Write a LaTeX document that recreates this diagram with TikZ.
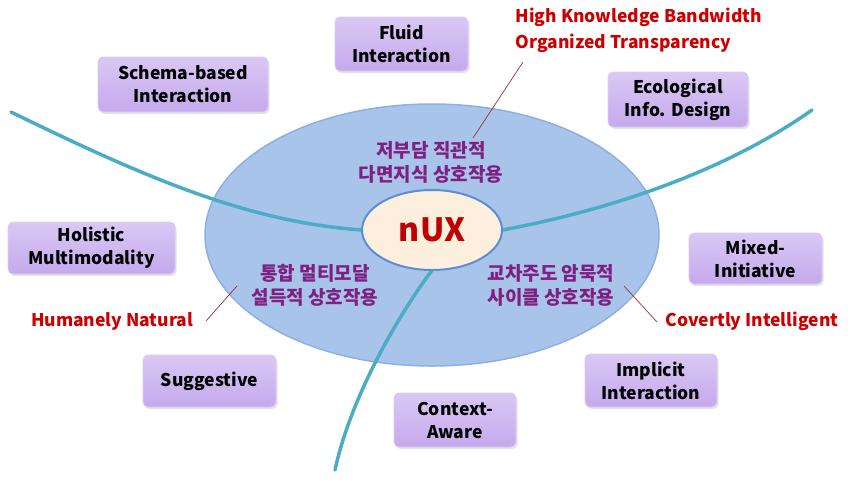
\documentclass[tikz,border=0pt]{standalone}
\usepackage{fontspec}
\setmainfont{Noto Sans CJK KR}
\usetikzlibrary{shapes.geometric,shadows}
\definecolor{teal1}{HTML}{4BACC6}
\definecolor{outerfill}{HTML}{A9C4EB}
\definecolor{outerdraw}{HTML}{8DB0E0}
\definecolor{innerfill}{HTML}{FDEFDE}
\definecolor{innerdraw}{HTML}{5B8FCF}
\definecolor{kpurple}{HTML}{7F1F80}
\definecolor{lred}{HTML}{CC0000}
\definecolor{nuxred}{HTML}{C00000}
\definecolor{leader}{HTML}{9B3030}
\definecolor{boxtop}{HTML}{D9C8F4}
\definecolor{boxbot}{HTML}{C5A9ED}
\definecolor{boxdraw}{HTML}{DCCBF5}
\begin{document}
\begin{tikzpicture}[x=1pt,y=-1pt,
  pbox/.style={draw=boxdraw, line width=0.8pt, rounded corners=5pt,
    top color=boxtop, bottom color=boxbot,
    drop shadow={opacity=0.22, shadow xshift=1.5pt, shadow yshift=-2pt},
    align=center, inner sep=0pt, font=\fontsize{17.5}{23}\selectfont\bfseries},
  ktext/.style={text=kpurple, align=center, font=\fontsize{19}{24}\selectfont\bfseries},
  rtext/.style={text=lred, font=\fontsize{17.5}{26}\selectfont\bfseries},
  curve/.style={draw=teal1, line width=3.5pt, line cap=round},
  lead/.style={draw=leader, line width=0.7pt}]
\useasboundingbox (0,0) rectangle (850,480);

% outer ellipse
\node[ellipse, fill=outerfill, draw=outerdraw, line width=1.5pt,
  minimum width=454pt, minimum height=262pt, inner sep=0pt] (outer) at (432,235) {};

% curves
\coordinate (lstart) at (11,112);
\coordinate (rstart) at (812,110);
\coordinate (bend) at (335,470);
\node[ellipse, minimum width=140pt, minimum height=80pt, inner sep=0pt] (innerpos) at (432,230) {};
\draw[curve] (lstart) .. controls (150,180) and (250,222) .. (innerpos.west);
\draw[curve] (rstart) .. controls (720,175) and (600,212) .. (innerpos.east);
\draw[curve] (innerpos.south) .. controls (395,320) and (350,400) .. (bend);

% inner ellipse
\node[ellipse, fill=innerfill, draw=innerdraw, line width=2pt,
  minimum width=140pt, minimum height=80pt, inner sep=0pt,
  text=nuxred, font=\fontsize{32}{32}\selectfont\bfseries] (inner) at (432,230) {nUX};

% Korean texts
\node[ktext] (k1) at (431,162) {저부담 직관적\\다면지식 상호작용};
\node[ktext] (k2) at (315,285) {통합 멀티모달\\설득적 상호작용};
\node[ktext] (k3) at (551,285) {교차주도 암묵적\\사이클 상호작용};

% red labels
\node[rtext, anchor=west, align=left] (hk) at (512,30) {High Knowledge Bandwidth\\Organized Transparency};
\node[rtext] (hn) at (112,321) {Humanely Natural};
\node[rtext] (ci) at (752,321) {Covertly Intelligent};

% leader lines
\coordinate (hka) at (523,62);
\coordinate (hkb) at (473,138);
\coordinate (hna) at (206,321);
\coordinate (hnb) at (237,286);
\coordinate (cia) at (657,322);
\coordinate (cib) at (624,286);
\draw[lead] (hka) -- (hkb);
\draw[lead] (hna) -- (hnb);
\draw[lead] (cia) -- (cib);

% boxes
\node[pbox, minimum width=170pt, minimum height=55pt] (schema) at (183,84.5) {Schema-based\\Interaction};
\node[pbox, minimum width=133pt, minimum height=54pt] (fluid) at (401.5,44) {Fluid\\Interaction};
\node[pbox, minimum width=140pt, minimum height=55pt] (eco) at (678,99.5) {Ecological\\Info. Design};
\node[pbox, minimum width=167pt, minimum height=52pt] (holistic) at (91.5,248) {Holistic\\Multimodality};
\node[pbox, minimum width=133pt, minimum height=51pt] (mixed) at (755.5,258.5) {Mixed-\\Initiative};
\node[pbox, minimum width=133pt, minimum height=52pt] (sugg) at (209.5,381) {Suggestive};
\node[pbox, minimum width=122pt, minimum height=54pt] (context) at (455,420) {Context-\\Aware};
\node[pbox, minimum width=132pt, minimum height=53pt] (implicit) at (651,380.5) {Implicit\\Interaction};
\end{tikzpicture}
\end{document}
